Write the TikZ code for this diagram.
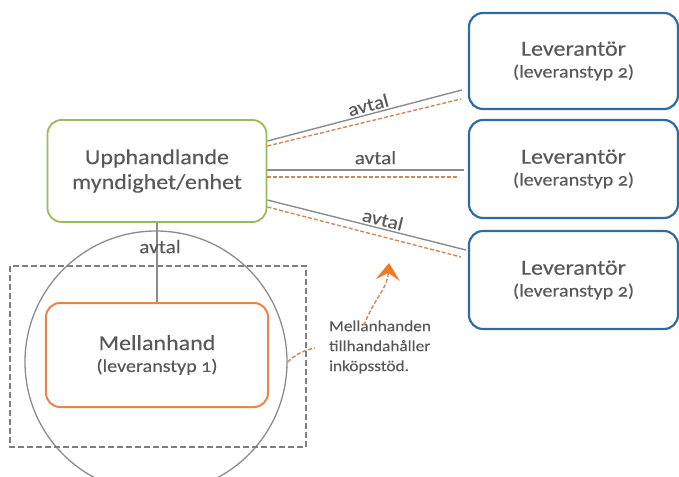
\documentclass[tikz,border=0pt]{standalone}
\usepackage{fontspec}
\setmainfont[FakeStretch=1.12,FakeBold=0.15,Numbers=OldStyle]{Carlito}
\usetikzlibrary{calc,arrows.meta,positioning}

\definecolor{txtgray}{HTML}{595959}
\definecolor{linegray}{HTML}{8C8C8C}
\definecolor{kundgreen}{HTML}{9BBB59}
\definecolor{levblue}{HTML}{2E6CA4}
\definecolor{mellanorange}{HTML}{E8864A}
\definecolor{stodorange}{HTML}{C98A5F}
\definecolor{pilorange}{HTML}{F07A22}

\tikzset{
  box/.style={draw, rounded corners=14bp, fill=white, text=txtgray, align=center,
    font=\fontsize{21.5}{25}\selectfont},
  kund/.style={box, draw=kundgreen, line width=1.8bp, minimum width=219bp, minimum height=102bp},
  lev/.style={box, draw=levblue, line width=2.2bp, minimum width=209bp, minimum height=96bp},
  mellan/.style={box, draw=mellanorange, line width=2bp, minimum width=222bp, minimum height=104bp},
  avtallinje/.style={draw=linegray, line width=1.4bp},
  stodlinje/.style={draw=stodorange, line width=1.4bp, dash pattern=on 4bp off 2bp},
  avtaltext/.style={text=txtgray, font=\fontsize{19}{20}\selectfont, inner sep=2bp},
}
\newcommand{\typtext}[1]{{\fontsize{18}{23}\selectfont #1}}

\begin{document}
\begin{tikzpicture}[x=1bp, y=-1bp]
\useasboundingbox (0,0) rectangle (679,477);

% ram och ring runt mellanhanden
\node[draw=linegray, line width=1.3bp, circle, minimum size=262bp, inner sep=0] (ring) at (156,362) {};
\draw[draw=linegray!90!black, line width=2bp, dash pattern=on 6bp off 3bp] (10,266) rectangle (306,447);

% noder
\node[kund] (upph) at (157,171) {Upphandlande\\myndighet/enhet};
\node[lev] (lev1) at (573.5,61) {Leverant\"or\\[-3bp]\typtext{(leveranstyp 2)}};
\node[lev, minimum height=98bp] (lev2) at (573.5,169) {Leverant\"or\\[-3bp]\typtext{(leveranstyp 2)}};
\node[lev, minimum height=98bp] (lev3) at (573.5,280) {Leverant\"or\\[-3bp]\typtext{(leveranstyp 2)}};
\node[mellan] (mellan) at (157,355) {Mellanhand\\[-3bp]\typtext{(leveranstyp 1)}};
\node[text=txtgray, align=left, font=\fontsize{15.5}{20}\selectfont, inner sep=0] (stod) at (380,347)
  {Mellanhanden\\tillhandah\aa ller\\ink\"opsst\"od.};

% avtal
\draw[avtallinje] ($(upph.east)+(0,-30)$) -- node[avtaltext, sloped, above, pos=0.53]{avtal} ($(lev1.west)+(-6,29)$);
\draw[stodlinje] ($(upph.east)+(0,-25)$) -- ($(lev1.west)+(-7,38)$);
\draw[avtallinje] ($(upph.east)+(0,-1)$) -- node[avtaltext, above=3bp, pos=0.55]{avtal} ($(lev2.west)+(-4,1)$);
\draw[stodlinje] ($(upph.east)+(0,6)$) -- ($(lev2.west)+(-10,8)$);
\draw[avtallinje] ($(upph.east)+(0,29)$) -- node[avtaltext, sloped, above, pos=0.57]{avtal} ($(lev3.west)+(-2,-30)$);
\draw[stodlinje] ($(upph.east)+(0,36)$) -- ($(lev3.west)+(-7,-23)$);
\draw[avtallinje, line width=1.2bp] (upph.south) -- node[avtaltext, pos=0.3, xshift=3bp]{avtal} (mellan.north);

% inköpsstöd
\coordinate (pilspets) at (389,263);
\draw[stodlinje, -{Stealth[length=17bp, width=24bp, inset=7bp, color=pilorange, fill=pilorange]}]
  ($(stod.north west)+(35,5)$) .. controls (376,295) and (387,290) .. (pilspets);
\draw[stodlinje] (ring.east) to[bend left=15] ($(stod.west)+(-14,1)$);
\end{tikzpicture}
\end{document}
